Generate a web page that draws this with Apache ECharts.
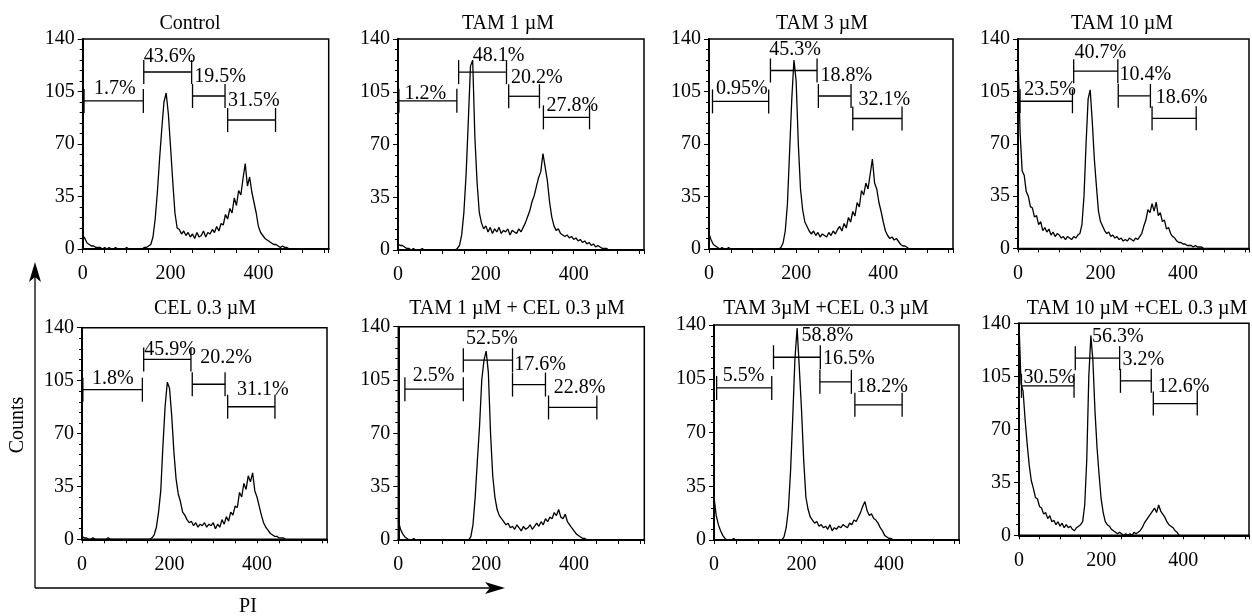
<!DOCTYPE html>
<html>
<head>
<meta charset="utf-8">
<title>PI histograms</title>
<script src="https://cdn.jsdelivr.net/npm/echarts@6/dist/echarts.min.js"></script>
<style>
  html, body { margin: 0; padding: 0; background: #fff; }
  #chart { width: 1252px; height: 616px; }
</style>
</head>
<body>
<div id="chart"></div>
<script>
// PI channel step between histogram points
const binStep = 5;
const yTicks = [0, 35, 70, 105, 140];
const xLabels = [0, 200, 400];

const titles = ['Control', 'TAM 1 µM', 'TAM 3 µM', 'TAM 10 µM',
  'CEL 0.3 µM', 'TAM 1 µM + CEL 0.3 µM', 'TAM 3µM +CEL 0.3 µM', 'TAM 10 µM +CEL 0.3 µM'];

// counts, one value every binStep channels starting at 0
const countsControl = [9,7,4,3,2,2,1,1,1,0, 1,0,1,0,0,1,0,0,0,0, 1,0,0,0,0,0,0,0,1,1,
  2,3,8,20,38,60,80,98,104,90, 68,45,24,14,13,10,12,9,11,8, 10,7,11,8,9,12,8,11,10,13,
  11,15,12,17,16,23,20,27,24,34, 29,39,36,47,57,42,48,38,31,24, 15,11,9,7,6,5,4,3,3,2,
  1,2,1,1,0];
const countsTam1 = [4,3,3,2,1,1,0,1,0,0, 0,1,0,0,0,0,0,0,0,0, 0,0,0,0,0,0,0,1,3,10,
  25,50,85,122,126,75,45,25,18,14, 16,12,15,11,14,12,15,11,13,12, 14,10,13,12,11,14,12,15,18,22,
  26,32,36,42,48,52,64,55,46,32, 22,16,13,14,11,10,9,10,8,9, 7,8,6,7,5,6,4,5,3,4,
  2,3,2,1,1,1,0];
const countsTam3 = [10,6,3,2,1,0,1,0,0,1, 0,0,0,0,0,0,0,0,0,0, 0,0,0,0,0,0,0,0,0,0,
  0,0,0,1,4,12,30,65,100,126, 112,70,40,26,18,15,12,10,12,9, 11,8,10,9,8,11,9,12,10,13,
  15,12,17,14,21,18,25,22,31,28, 39,36,44,40,50,60,44,40,31,25, 18,12,9,7,8,6,7,5,3,2,
  2,1,0];
const countsTam10 = [130,78,52,49,38,35,28,27,21,22, 16,18,12,14,11,13,9,11,8,10, 9,7,8,6,8,7,6,8,7,9,
  10,16,35,70,100,106,85,60,42,25, 18,15,12,10,11,8,9,7,8,6, 7,5,6,5,7,6,5,7,6,8,
  10,15,19,26,24,30,25,31,22,24, 18,19,13,14,10,8,7,5,4,4, 3,3,2,2,2,1,2,1,1,1,
  0];
const countsCel = [2,1,1,0,0,1,0,0,0,0, 0,0,1,0,0,0,0,0,0,0, 0,0,0,0,0,0,0,0,0,0,
  0,0,1,3,8,18,32,62,88,104, 100,82,58,40,30,25,18,16,13,11, 12,9,11,8,10,9,11,8,10,9,
  11,7,10,8,13,10,15,12,18,16, 22,21,31,28,37,33,42,38,44,32, 28,22,16,11,8,6,4,3,2,2,
  1,1,1,0];
const countsTam1Cel = [13,7,4,2,1,0,0,1,0,0, 0,0,0,0,0,0,0,0,0,0, 0,0,0,0,0,0,0,0,0,0,
  0,0,0,2,10,28,52,75,105,118, 124,110,70,42,28,20,16,14,12,10, 11,8,9,7,10,8,6,9,7,8,
  10,7,9,11,9,12,10,14,12,15, 14,18,16,20,15,14,17,12,10,8, 6,4,3,2,1,1,0];
const countsTam3Cel = [28,16,10,6,3,1,0,0,0,1, 0,0,0,0,0,0,0,0,0,0, 0,0,0,0,0,0,0,0,0,0,
  0,0,2,8,20,45,80,118,138,112, 85,52,28,20,15,13,11,12,9,10, 8,9,7,10,6,8,7,9,8,10,
  9,8,11,10,13,12,15,18,22,25, 19,16,17,14,13,11,8,6,3,2, 1,1,0];
const countsTam10Cel = [140,100,95,76,60,46,36,31,25,24, 19,18,14,15,11,13,9,10,7,9, 6,8,5,7,5,6,4,3,5,6,
  7,9,20,50,105,132,115,82,58,40, 24,15,9,7,6,4,3,2,1,2, 1,0,1,0,1,0,2,1,2,3,
  5,8,10,12,14,16,18,15,20,16, 14,12,9,7,6,5,3,2,0];

// gates: [start, end, level, label, labelX, labelY] in PI / count units
const gatesControl = [[3,138,98.7,'1.7%',26,107],[139,248,118,'43.6%',139,128],[250,324,102,'19.5%',254,115],[330,439,86,'31.5%',331,99]];
const gatesTam1 = [[2,134,99,'1.2%',15,104],[138,247,118,'48.1%',170,129],[252,322,102,'20.2%',257,114],[331,436,88,'27.8%',338,96]];
const gatesTam3 = [[8,137,98.4,'0.95%',16,107],[141,248,119,'45.3%',138,133],[251,326,102,'18.8%',256,115.5],[330,443,87,'32.1%',343,99.5]];
const gatesTam10 = [[5,132,98.4,'23.5%',15,106],[135,242,118.5,'40.7%',137,131],[243,321,102,'10.4%',246,116],[325,432,87,'18.6%',334,100.6]];
const gatesCel = [[2,138,99,'1.8%',23,106],[141,249,119,'45.9%',142,125.5],[252,327,102.6,'20.2%',270,120],[333,441,87.7,'31.1%',354,99]];
const gatesTam1Cel = [[15,148,99,'2.5%',33,107.6],[148,260,118,'52.5%',154,132],[260,335,102,'17.6%',264,115],[342,452,87,'22.8%',354,100]];
const gatesTam3Cel = [[6,132,99,'5.5%',20,107],[136,243,119,'58.8%',200,133],[242,314,103,'16.5%',249,118],[322,430,88,'18.2%',325,100]];
const gatesTam10Cel = [[6,134,98.7,'30.5%',11,104],[137,245,117,'56.3%',178,131],[247,322,102,'3.2%',252,116],[327,434,87,'12.6%',338,98]];

const allCounts = [countsControl, countsTam1, countsTam3, countsTam10, countsCel, countsTam1Cel, countsTam3Cel, countsTam10Cel];
const allGates = [gatesControl, gatesTam1, gatesTam3, gatesTam10, gatesCel, gatesTam1Cel, gatesTam3Cel, gatesTam10Cel];

// panel layout in px: [left, top, width, height, titleX, titleY]
const panels = [
  [82.7, 39, 246, 210, 190, 24], [398, 39, 246, 211, 508, 24], [709, 39, 244, 210, 822, 24], [1018, 39, 246, 209.5, 1122, 24],
  [82, 327.7, 245, 211.6, 205, 309], [398.3, 326.7, 246, 213.3, 517, 309], [714, 325, 245, 215, 826, 309], [1019, 323.3, 246, 212, 1137, 309]
];

const FONT = '"Liberation Serif", "Times New Roman", serif';
const chart = echarts.init(document.getElementById('chart'));

const grids = [], xAxes = [], yAxes = [], series = [], graphics = [];

panels.forEach((p, i) => {
  grids.push({left: p[0], top: p[1], width: p[2], height: p[3], show: true, borderColor: '#000', borderWidth: 1.5});
  xAxes.push({
    gridIndex: i, type: 'value', min: 0, max: 560, interval: 50,
    axisLine: {lineStyle: {color: '#000', width: 2}},
    axisTick: {length: 4, lineStyle: {color: '#000'}},
    splitLine: {show: false},
    axisLabel: {color: '#000', fontFamily: FONT, fontSize: 20, margin: 15, interval: 0,
      formatter: v => xLabels.indexOf(v) >= 0 ? String(v) : ''}
  });
  yAxes.push({
    gridIndex: i, type: 'value', min: yTicks[0], max: yTicks[yTicks.length - 1], interval: 35,
    axisLine: {show: true, lineStyle: {color: '#000', width: 2}},
    axisTick: {show: true, length: 5, lineStyle: {color: '#000'}},
    minorTick: {show: true, splitNumber: 5, length: 3, lineStyle: {color: '#000'}},
    splitLine: {show: false},
    axisLabel: {color: '#000', fontFamily: FONT, fontSize: 20, margin: 8}
  });
  series.push({
    type: 'line', xAxisIndex: i, yAxisIndex: i, showSymbol: false, silent: true,
    data: allCounts[i].map((c, k) => [k * binStep, c]),
    lineStyle: {color: '#000', width: 1.3}
  });
  const gates = allGates[i];
  series.push({
    type: 'custom', xAxisIndex: i, yAxisIndex: i, silent: true, clip: false,
    data: gates.map(g => [g[0], g[1], g[2], g[4], g[5]]),
    encode: {x: [0, 1, 3], y: [2, 4]},
    renderItem: (params, api) => {
      const a = api.coord([api.value(0), api.value(2)]);
      const b = api.coord([api.value(1), api.value(2)]);
      const t = api.coord([api.value(3), api.value(4)]);
      const h = 12;
      const st = {stroke: '#000', lineWidth: 1.3};
      return {type: 'group', children: [
        {type: 'line', shape: {x1: a[0], y1: a[1], x2: b[0], y2: b[1]}, style: st},
        {type: 'line', shape: {x1: a[0], y1: a[1] - h, x2: a[0], y2: a[1] + h}, style: st},
        {type: 'line', shape: {x1: b[0], y1: b[1] - h, x2: b[0], y2: b[1] + h}, style: st},
        {type: 'text', x: t[0], y: t[1], style: {text: gates[params.dataIndex][3], fill: '#000',
          font: '20px ' + FONT, textAlign: 'left', textVerticalAlign: 'middle'}}
      ]};
    }
  });
  graphics.push({type: 'text', x: p[4], y: p[5], style: {text: titles[i], fill: '#000',
    font: '20px ' + FONT, textAlign: 'center', textVerticalAlign: 'middle'}});
});

// shared Counts / PI arrows
graphics.push(
  {type: 'line', shape: {x1: 35, y1: 588, x2: 35, y2: 272}, style: {stroke: '#000', lineWidth: 1.3}},
  {type: 'polygon', shape: {points: [[35, 262], [29, 282], [35, 277], [41, 282]]}, style: {fill: '#000'}},
  {type: 'line', shape: {x1: 35, y1: 588, x2: 495, y2: 588}, style: {stroke: '#000', lineWidth: 1.3}},
  {type: 'polygon', shape: {points: [[505, 588], [485, 582], [490, 588], [485, 594]]}, style: {fill: '#000'}},
  {type: 'text', x: 18, y: 425, rotation: Math.PI / 2, style: {text: 'Counts', fill: '#000',
    font: '20px ' + FONT, textAlign: 'center', textVerticalAlign: 'middle'}},
  {type: 'text', x: 248, y: 607, style: {text: 'PI', fill: '#000',
    font: '20px ' + FONT, textAlign: 'center', textVerticalAlign: 'middle'}}
);

chart.setOption({
  animation: false,
  grid: grids,
  xAxis: xAxes,
  yAxis: yAxes,
  series: series,
  graphic: graphics
});
</script>
</body>
</html>
